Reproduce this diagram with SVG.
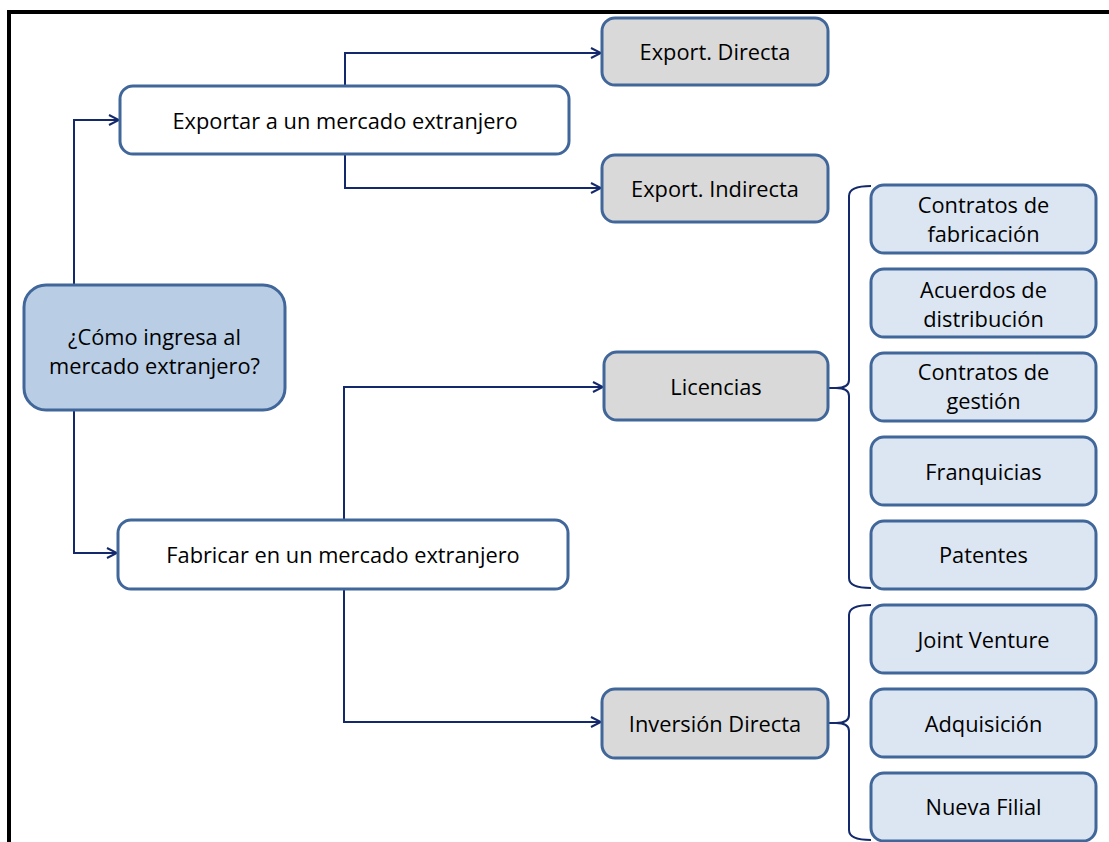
<svg xmlns="http://www.w3.org/2000/svg" width="1109" height="842" viewBox="0 0 1109 842">
<defs>
<marker id="arr" viewBox="0 0 12 12" refX="11" refY="6" markerWidth="12" markerHeight="12" markerUnits="userSpaceOnUse" orient="auto">
<path d="M1,1 L11,6 L1,11" fill="none" stroke="#13296b" stroke-width="2"/>
</marker>
<style>
.conn{fill:none;stroke:#13296b;stroke-width:2}
.box{stroke:#41679a;stroke-width:3}
.w{fill:#ffffff}
.g{fill:#d9d9d9}
.b{fill:#b9cde5}
.lb{fill:#dce6f2}
text{font-family:"Open Sans","Noto Sans",sans-serif;font-size:21.8px;fill:#000;text-anchor:middle}
</style>
</defs>
<rect width="1109" height="842" fill="#ffffff"/>
<path d="M9,842 V12 H1109" fill="none" stroke="#000" stroke-width="4"/>
<g id="connectors">
<path class="conn" d="M74,285 V120 H119" marker-end="url(#arr)"/>
<path class="conn" d="M74,410 V553 H117" marker-end="url(#arr)"/>
<path class="conn" d="M345,85 V53 H601" marker-end="url(#arr)"/>
<path class="conn" d="M345,153 V188 H601" marker-end="url(#arr)"/>
<path class="conn" d="M344,520 V387 H603" marker-end="url(#arr)"/>
<path class="conn" d="M344,589 V722 H601" marker-end="url(#arr)"/>
<path class="conn" d="M871,186 Q849,186 849,196 V380 Q849,388 836,388 H828 M836,388 Q849,388 849,396 V578 Q849,588 871,588"/>
<path class="conn" d="M871,605 Q849,605 849,615 V715 Q849,723 836,723 H828 M836,723 Q849,723 849,731 V830 Q849,840 871,840"/>
</g>
<g id="n-main"><rect class="box b" x="24" y="285" width="261" height="125" rx="22"/><text x="154.5" y="345">¿Cómo ingresa al</text><text x="154.5" y="374">mercado extranjero?</text></g>
<g id="n-exportar"><rect class="box w" x="120" y="86" width="449" height="68" rx="13"/><text x="345" y="129">Exportar a un mercado extranjero</text></g>
<g id="n-fabricar"><rect class="box w" x="118" y="520" width="450" height="69" rx="13"/><text x="343" y="563">Fabricar en un mercado extranjero</text></g>
<g id="n-directa"><rect class="box g" x="602" y="18" width="226" height="67" rx="13"/><text x="715" y="60">Export. Directa</text></g>
<g id="n-indirecta"><rect class="box g" x="602" y="155" width="226" height="67" rx="13"/><text x="715" y="197">Export. Indirecta</text></g>
<g id="n-licencias"><rect class="box g" x="604" y="352" width="224" height="68" rx="13"/><text x="716" y="395">Licencias</text></g>
<g id="n-inversion"><rect class="box g" x="602" y="689" width="226" height="69" rx="13"/><text x="715" y="732">Inversión Directa</text></g>
<g id="n-fabricacion"><rect class="box lb" x="871" y="185" width="225" height="68" rx="13"/><text x="983.5" y="213">Contratos de</text><text x="983.5" y="242">fabricación</text></g>
<g id="n-distribucion"><rect class="box lb" x="871" y="269" width="225" height="68" rx="13"/><text x="983.5" y="298">Acuerdos de</text><text x="983.5" y="327">distribución</text></g>
<g id="n-gestion"><rect class="box lb" x="871" y="353" width="225" height="68" rx="13"/><text x="983.5" y="380">Contratos de</text><text x="983.5" y="409">gestión</text></g>
<g id="n-franquicias"><rect class="box lb" x="871" y="437" width="225" height="68" rx="13"/><text x="983.5" y="480">Franquicias</text></g>
<g id="n-patentes"><rect class="box lb" x="871" y="521" width="225" height="68" rx="13"/><text x="983.5" y="563">Patentes</text></g>
<g id="n-joint"><rect class="box lb" x="871" y="605" width="225" height="68" rx="13"/><text x="983.5" y="648">Joint Venture</text></g>
<g id="n-adquisicion"><rect class="box lb" x="871" y="689" width="225" height="68" rx="13"/><text x="983.5" y="732">Adquisición</text></g>
<g id="n-filial"><rect class="box lb" x="871" y="773" width="225" height="68" rx="13"/><text x="983.5" y="815">Nueva Filial</text></g>
</svg>
